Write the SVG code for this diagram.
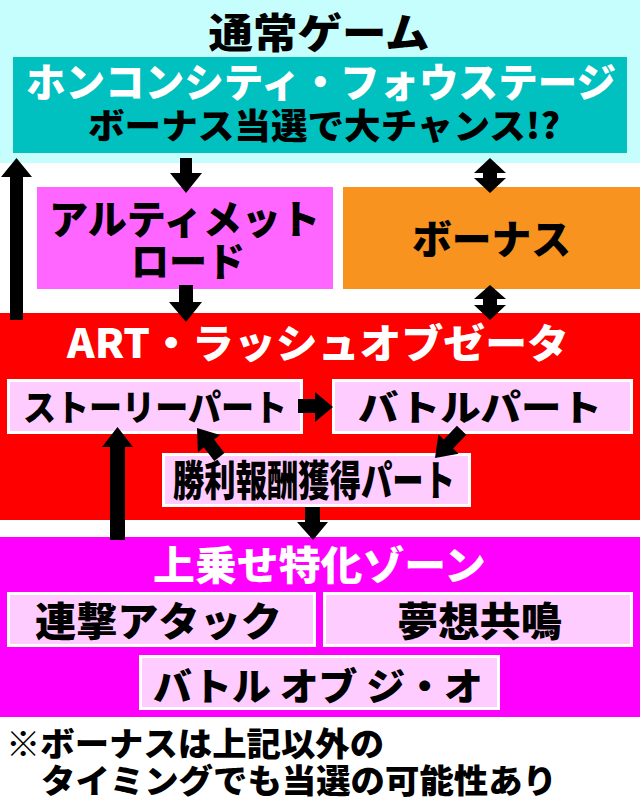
<svg xmlns="http://www.w3.org/2000/svg" width="640" height="805" viewBox="0 0 640 805">
<style>
text{font-family:"Noto Sans CJK JP","Noto Sans",sans-serif;font-weight:900;text-anchor:middle}
.k{fill:#000}
.w{fill:#fff}
.sub{fill:#ffccff;stroke:#fff;stroke-width:3}
.arr{fill:#000}
</style>
<rect x="0" y="0" width="640" height="805" fill="#fff"/>
<g id="normal-game">
<rect x="0" y="0" width="640" height="163" fill="#c6fdfd"/>
<text class="k" x="319" y="47.5" font-size="41" textLength="221" lengthAdjust="spacingAndGlyphs">通常ゲーム</text>
</g>
<g id="honkon-stage">
<rect x="13" y="57" width="614" height="96" fill="#00c0c0"/>
<text class="w" x="321" y="97" font-size="40" textLength="590" lengthAdjust="spacingAndGlyphs">ホンコンシティ・フォウステージ</text>
<text class="k" x="324" y="139" font-size="35" textLength="472" lengthAdjust="spacingAndGlyphs">ボーナス当選で大チャンス!?</text>
</g>
<g id="ultimate-road">
<rect x="37" y="187" width="296" height="102" fill="#ff66ff"/>
<text class="k" x="184.5" y="234" font-size="40" textLength="271" lengthAdjust="spacingAndGlyphs">アルティメット</text>
<text class="k" x="188" y="276" font-size="40" textLength="114" lengthAdjust="spacingAndGlyphs">ロード</text>
</g>
<g id="bonus">
<rect x="343" y="187" width="297" height="102" fill="#f7931e"/>
<text class="k" x="491.5" y="254" font-size="40" textLength="159" lengthAdjust="spacingAndGlyphs">ボーナス</text>
</g>
<g id="art-rush">
<rect x="0" y="313" width="640" height="207" fill="#ff0000"/>
<text class="w" x="318" y="358" font-size="40" textLength="502" lengthAdjust="spacingAndGlyphs">ART・ラッシュオブゼータ</text>
</g>
<g id="uwanose-zone">
<rect x="0" y="537" width="640" height="180" fill="#ff00ff"/>
<text class="w" x="319.5" y="580" font-size="40" textLength="333" lengthAdjust="spacingAndGlyphs">上乗せ特化ゾーン</text>
</g>
<g id="story-part">
<rect class="sub" x="8.5" y="380.5" width="293" height="52"/>
<text class="k" x="155" y="421" font-size="36" textLength="264" lengthAdjust="spacingAndGlyphs">ストーリーパート</text>
</g>
<g id="battle-part">
<rect class="sub" x="333.5" y="380.5" width="298" height="52"/>
<text class="k" x="480" y="421" font-size="36" textLength="244" lengthAdjust="spacingAndGlyphs">バトルパート</text>
</g>
<g id="victory-part">
<rect class="sub" x="163.5" y="454.5" width="306" height="51"/>
<text class="k" x="314" y="496" font-size="42" textLength="282" lengthAdjust="spacingAndGlyphs">勝利報酬獲得パート</text>
</g>
<g id="rengeki-attack">
<rect class="sub" x="8.5" y="593.5" width="306" height="52"/>
<text class="k" x="158.5" y="636" font-size="40" textLength="247" lengthAdjust="spacingAndGlyphs">連撃アタック</text>
</g>
<g id="musou-kyoumei">
<rect class="sub" x="324.5" y="593.5" width="307" height="52"/>
<text class="k" x="479.5" y="636" font-size="40" textLength="165" lengthAdjust="spacingAndGlyphs">夢想共鳴</text>
</g>
<g id="battle-of-zeo">
<rect class="sub" x="140.5" y="656.5" width="358" height="52"/>
<text class="k" x="318" y="700" font-size="38" textLength="330" lengthAdjust="spacingAndGlyphs">バトル オブ ジ・オ</text>
</g>
<g id="connectors">
<polygon class="arr" points="10,320 10,177 1,177 16.5,158 32,177 23,177 23,320"/>
<polygon class="arr" points="180,158 192,158 192,173 202,173 186,193 170,173 180,173"/>
<polygon class="arr" points="179,285 193,285 193,302 202,302 186,322 169,302 179,302"/>
<polygon class="arr" points="490,158 506,173 497,173 497,178 506,178 490,193 474,178 483,178 483,173 474,173"/>
<polygon class="arr" points="490,285 506,299 497,299 497,305 506,305 490,320 474,305 483,305 483,299 474,299"/>
<polygon class="arr" points="298,399 315,399 315,392 333,407 315,422 315,413 298,413"/>
<polygon class="arr" points="466.3,434.8 453.2,448.5 458.6,453.7 435,458 438.4,434.3 443.8,439.5 456.9,425.8"/>
<polygon class="arr" points="224.5,452.9 214.1,439.5 220.1,435 197,428 197.9,452 203.9,447.5 214.3,460.9"/>
<polygon class="arr" points="305,507 320,507 320,522 328,522 313,540 297,522 305,522"/>
<polygon class="arr" points="110,540 110,447 102,447 117.5,427 133,447 125,447 125,540"/>
</g>
<g id="note">
<text class="k" x="6" y="756" font-size="33" style="text-anchor:start" textLength="378" lengthAdjust="spacingAndGlyphs">※ボーナスは上記以外の</text>
<text class="k" x="41" y="793" font-size="33" style="text-anchor:start" textLength="516" lengthAdjust="spacingAndGlyphs">タイミングでも当選の可能性あり</text>
</g>
</svg>
